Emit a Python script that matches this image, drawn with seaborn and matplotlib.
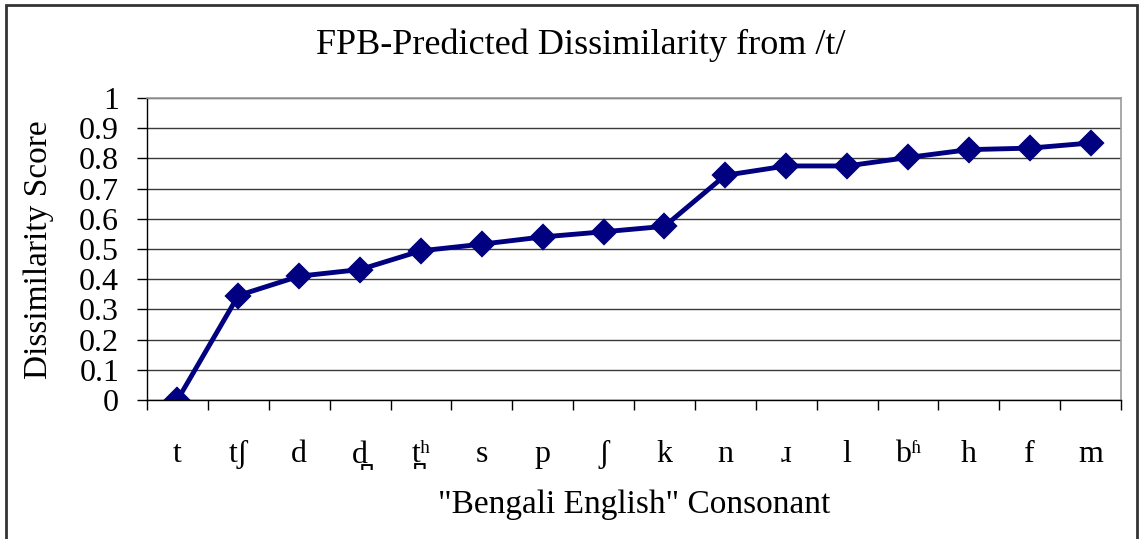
import matplotlib
matplotlib.use("Agg")
import matplotlib.pyplot as plt
import seaborn as sns
import numpy as np
from matplotlib.patches import Rectangle
from matplotlib.ticker import MultipleLocator, FixedLocator

# data
consonants = ["t", "tʃ", "d", "d̪", "t̪ʰ", "s", "p", "ʃ", "k", "n", "ɹ", "l", "bʱ", "h", "f", "m"]
scores = [0.0, 0.346, 0.41, 0.432, 0.494, 0.516, 0.54, 0.557, 0.575,
          0.744, 0.775, 0.775, 0.803, 0.829, 0.834, 0.851]
y_ticks = [0, 0.1, 0.2, 0.3, 0.4, 0.5, 0.6, 0.7, 0.8, 0.9, 1]
y_tick_labels = ["0", "0.1", "0.2", "0.3", "0.4", "0.5", "0.6", "0.7", "0.8", "0.9", "1"]

sns.set_style("white")
plt.rcParams["font.family"] = ["Liberation Serif", "DejaVu Serif"]
plt.rcParams["text.color"] = "black"
plt.rcParams["xtick.color"] = "black"
plt.rcParams["ytick.color"] = "black"
plt.rcParams["xtick.labelcolor"] = "black"
plt.rcParams["ytick.labelcolor"] = "black"

W, H = 1139, 539
fig = plt.figure(figsize=(W / 100, H / 100), dpi=100)
ax = fig.add_axes([147 / W, 1 - 400 / H, (1121 - 147) / W, (400 - 98) / H])

sns.pointplot(x=consonants, y=scores, order=consonants, color="#000080",
              markers="D", markersize=11, linewidth=3.5, errorbar=None, ax=ax)

ax.set_xlim(-0.5, len(consonants) - 0.5)
ax.set_ylim(0, 1)
ax.yaxis.set_major_locator(FixedLocator(y_ticks))
ax.set_yticklabels(y_tick_labels)
ax.xaxis.set_minor_locator(MultipleLocator(1, offset=0.5))
ax.set_xticks(range(len(consonants)))
ax.set_xticklabels(consonants)

ax.yaxis.grid(True, color="#3a3a3a", linewidth=1)
ax.xaxis.grid(False)
ax.set_axisbelow(True)

for side in ["left", "bottom"]:
    ax.spines[side].set_color("black")
    ax.spines[side].set_linewidth(1)
for side in ["top", "right"]:
    ax.spines[side].set_visible(True)
    ax.spines[side].set_color("#999999")
    ax.spines[side].set_linewidth(1.2)

ax.tick_params(axis="y", which="major", left=True, length=7, width=1,
               color="black", pad=13, labelsize=23)
ax.tick_params(axis="x", which="major", bottom=False, length=0, pad=29, labelsize=23)
ax.tick_params(axis="x", which="minor", bottom=True, length=7, width=1, color="black")

ax.set_xlabel("")
ax.set_ylabel("")

fig.text(581 / W, 1 - 45 / H, "FPB-Predicted Dissimilarity from /t/",
         ha="center", va="center", fontsize=26, color="black")
fig.text(634 / W, 1 - 505 / H, "\"Bengali English\" Consonant",
         ha="center", va="center", fontsize=24, color="black")
fig.text(39 / W, 1 - 250 / H, "Dissimilarity Score", rotation=90,
         ha="center", va="center", fontsize=24, color="black")

# chart area border (open at the bottom, as in the reference)
fig.patches.append(Rectangle((6 / W, -0.05), (1137 - 6) / W, 1.05 - 5 / H,
                             transform=fig.transFigure, fill=False,
                             edgecolor="#333333", linewidth=2))

fig.savefig("out.png", dpi=100)
